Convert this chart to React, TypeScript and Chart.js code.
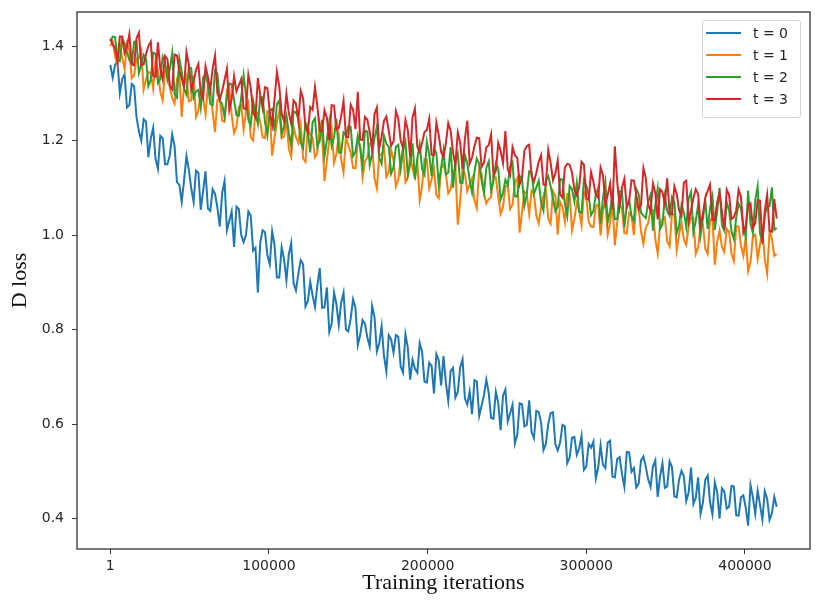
import { useEffect, useRef } from "react";
import { Chart, registerables } from "chart.js";

Chart.register(...registerables);

// one sample every 1500 iterations, first sample at iteration 1
const STEP = 1500;

const xTicks = [1, 100000, 200000, 300000, 400000];
const yTicks = [0.4, 0.6, 0.8, 1.0, 1.2, 1.4];

const seriesLabels = ["t = 0", "t = 1", "t = 2", "t = 3"];
const seriesColors = ["#1f77b4", "#ff7f0e", "#2ca02c", "#d62728"];

const lossT0 = [
  1.36, 1.333, 1.36, 1.368, 1.3, 1.33, 1.34, 1.27, 1.275, 1.32,
  1.315, 1.25, 1.22, 1.2, 1.245, 1.24, 1.165, 1.204, 1.227, 1.161,
  1.14, 1.21, 1.205, 1.15, 1.15, 1.169, 1.213, 1.188, 1.112, 1.106,
  1.07, 1.116, 1.167, 1.138, 1.099, 1.07, 1.136, 1.132, 1.053, 1.094,
  1.135, 1.056, 1.051, 1.097, 1.087, 1.058, 1.018, 1.089, 1.114, 1.01,
  1.03, 1.05, 0.975, 1.06, 1.055, 1.0, 0.985, 1.0, 1.05, 1.041,
  0.967, 0.973, 0.878, 0.984, 1.01, 1.006, 0.957, 0.938, 1.008, 0.979,
  0.91, 0.91, 0.974, 0.949, 0.904, 0.959, 0.983, 0.898, 0.883, 0.918,
  0.947, 0.938, 0.849, 0.86, 0.901, 0.872, 0.848, 0.894, 0.93, 0.846,
  0.847, 0.889, 0.795, 0.812, 0.878, 0.854, 0.81, 0.857, 0.878, 0.8,
  0.796, 0.823, 0.864, 0.846, 0.767, 0.789, 0.82, 0.812, 0.783, 0.764,
  0.85, 0.827, 0.754, 0.771, 0.807, 0.744, 0.711, 0.788, 0.779, 0.751,
  0.788, 0.785, 0.722, 0.709, 0.79, 0.762, 0.694, 0.736, 0.717, 0.709,
  0.771, 0.753, 0.69, 0.688, 0.73, 0.723, 0.665, 0.748, 0.735, 0.682,
  0.744, 0.687, 0.649, 0.712, 0.719, 0.656, 0.668, 0.72, 0.737, 0.654,
  0.641, 0.669, 0.621, 0.693, 0.69, 0.617, 0.639, 0.662, 0.694, 0.666,
  0.613, 0.611, 0.668, 0.645, 0.587, 0.66, 0.673, 0.606, 0.623, 0.641,
  0.559, 0.577, 0.644, 0.642, 0.595, 0.598, 0.65, 0.583, 0.57, 0.628,
  0.625, 0.603, 0.545, 0.558, 0.6, 0.623, 0.625, 0.557, 0.544, 0.561,
  0.598, 0.595, 0.517, 0.529, 0.571, 0.573, 0.535, 0.548, 0.575, 0.503,
  0.51, 0.558, 0.55, 0.563, 0.485, 0.508, 0.555, 0.514, 0.507, 0.561,
  0.565, 0.489, 0.487, 0.526, 0.53, 0.494, 0.467, 0.541, 0.54, 0.499,
  0.507, 0.466, 0.474, 0.523, 0.531, 0.51, 0.483, 0.467, 0.51, 0.523,
  0.446, 0.489, 0.517, 0.465, 0.468, 0.521, 0.509, 0.447, 0.445, 0.483,
  0.501, 0.489, 0.437, 0.455, 0.508, 0.431, 0.444, 0.487, 0.41, 0.434,
  0.482, 0.491, 0.435, 0.409, 0.477, 0.456, 0.4, 0.464, 0.457, 0.421,
  0.425, 0.469, 0.468, 0.407, 0.406, 0.445, 0.449, 0.423, 0.385, 0.471,
  0.445, 0.41, 0.459, 0.429, 0.398, 0.458, 0.442, 0.397, 0.411, 0.446,
  0.425,
];

const lossT1 = [
  1.4, 1.41, 1.379, 1.361, 1.403, 1.375, 1.351, 1.405, 1.39, 1.332,
  1.338, 1.374, 1.375, 1.39, 1.308, 1.329, 1.345, 1.343, 1.31, 1.368,
  1.35, 1.303, 1.285, 1.348, 1.355, 1.313, 1.29, 1.278, 1.33, 1.343,
  1.25, 1.318, 1.335, 1.283, 1.285, 1.338, 1.25, 1.263, 1.305, 1.288,
  1.256, 1.314, 1.312, 1.26, 1.218, 1.286, 1.289, 1.242, 1.24, 1.308,
  1.31, 1.253, 1.216, 1.229, 1.272, 1.275, 1.223, 1.261, 1.279, 1.207,
  1.2, 1.263, 1.256, 1.239, 1.207, 1.205, 1.262, 1.26, 1.168, 1.206,
  1.239, 1.262, 1.205, 1.208, 1.245, 1.183, 1.166, 1.229, 1.207, 1.195,
  1.233, 1.162, 1.155, 1.229, 1.212, 1.206, 1.165, 1.174, 1.237, 1.211,
  1.114, 1.158, 1.201, 1.225, 1.153, 1.172, 1.211, 1.16, 1.133, 1.207,
  1.19, 1.174, 1.142, 1.141, 1.2, 1.189, 1.122, 1.156, 1.164, 1.193,
  1.191, 1.12, 1.099, 1.168, 1.171, 1.185, 1.123, 1.132, 1.18, 1.159,
  1.103, 1.117, 1.16, 1.184, 1.112, 1.121, 1.17, 1.139, 1.122, 1.156,
  1.074, 1.103, 1.161, 1.16, 1.099, 1.118, 1.141, 1.085, 1.078, 1.142,
  1.15, 1.129, 1.088, 1.097, 1.13, 1.144, 1.022, 1.071, 1.14, 1.129,
  1.093, 1.107, 1.12, 1.074, 1.057, 1.141, 1.13, 1.089, 1.067, 1.076,
  1.08, 1.124, 1.122, 1.081, 1.045, 1.059, 1.102, 1.106, 1.055, 1.064,
  1.112, 1.121, 1.005, 1.049, 1.092, 1.086, 1.045, 1.094, 1.087, 1.041,
  1.025, 1.059, 1.083, 1.097, 1.035, 1.024, 1.093, 1.082, 1.001, 1.07,
  1.059, 1.028, 1.087, 1.086, 1.01, 1.034, 1.068, 1.052, 1.021, 1.091,
  1.08, 1.029, 1.018, 1.017, 1.061, 1.065, 0.999, 1.053, 1.072, 1.001,
  1.025, 1.069, 0.978, 1.027, 1.066, 1.055, 1.004, 1.003, 1.047, 1.041,
  1.0, 1.069, 1.058, 1.008, 0.982, 1.016, 1.025, 1.054, 1.053, 0.992,
  0.961, 1.02, 1.034, 1.038, 0.987, 0.976, 1.045, 1.044, 0.968, 1.002,
  1.026, 0.99, 0.979, 1.018, 1.037, 1.036, 0.96, 0.974, 1.018, 1.022,
  0.971, 0.96, 1.029, 1.038, 0.937, 0.986, 1.01, 0.975, 0.964, 1.013,
  1.007, 0.961, 0.945, 1.019, 1.018, 0.977, 0.956, 0.995, 0.924, 0.943,
  0.997, 1.001, 0.95, 0.98, 1.009, 0.949, 0.918, 1.008, 0.992, 0.956,
  0.96,
];

const lossT2 = [
  1.41, 1.42, 1.419, 1.371, 1.368, 1.415, 1.406, 1.388, 1.37, 1.362,
  1.409, 1.41, 1.343, 1.36, 1.381, 1.373, 1.315, 1.328, 1.386, 1.384,
  1.322, 1.33, 1.378, 1.366, 1.329, 1.352, 1.385, 1.298, 1.291, 1.374,
  1.346, 1.309, 1.297, 1.355, 1.353, 1.291, 1.304, 1.307, 1.27, 1.333,
  1.341, 1.319, 1.277, 1.275, 1.348, 1.341, 1.284, 1.277, 1.25, 1.293,
  1.321, 1.319, 1.286, 1.254, 1.252, 1.29, 1.338, 1.296, 1.244, 1.232,
  1.285, 1.258, 1.235, 1.293, 1.291, 1.239, 1.211, 1.264, 1.267, 1.22,
  1.277, 1.285, 1.213, 1.231, 1.253, 1.216, 1.189, 1.262, 1.259, 1.247,
  1.195, 1.184, 1.237, 1.221, 1.175, 1.239, 1.247, 1.186, 1.2, 1.244,
  1.167, 1.201, 1.24, 1.189, 1.207, 1.246, 1.175, 1.174, 1.217, 1.211,
  1.23, 1.229, 1.167, 1.176, 1.21, 1.184, 1.147, 1.221, 1.219, 1.148,
  1.171, 1.205, 1.229, 1.163, 1.151, 1.21, 1.193, 1.187, 1.13, 1.144,
  1.187, 1.191, 1.14, 1.179, 1.198, 1.127, 1.15, 1.194, 1.118, 1.162,
  1.191, 1.14, 1.128, 1.197, 1.171, 1.125, 1.184, 1.173, 1.107, 1.141,
  1.179, 1.128, 1.132, 1.186, 1.1, 1.154, 1.172, 1.111, 1.11, 1.169,
  1.152, 1.116, 1.09, 1.134, 1.162, 1.151, 1.115, 1.089, 1.142, 1.156,
  1.095, 1.114, 1.152, 1.141, 1.075, 1.089, 1.117, 1.106, 1.145, 1.154,
  1.082, 1.081, 1.125, 1.119, 1.062, 1.086, 1.135, 1.134, 1.087, 1.101,
  1.115, 1.069, 1.052, 1.116, 1.125, 1.104, 1.077, 1.051, 1.06, 1.119,
  1.117, 1.066, 1.04, 1.104, 1.097, 1.071, 1.11, 1.049, 1.047, 1.116,
  1.105, 1.084, 1.042, 1.051, 1.085, 1.1, 1.024, 1.078, 1.112, 1.027,
  1.051, 1.085, 1.034, 1.034, 1.093, 1.092, 1.016, 1.061, 1.075, 1.04,
  1.029, 1.098, 1.087, 1.047, 1.041, 1.036, 1.07, 1.085, 1.009, 1.064,
  1.098, 1.013, 1.022, 1.082, 1.051, 1.041, 1.08, 1.07, 1.004, 1.019,
  1.063, 1.048, 1.017, 1.077, 1.091, 1.006, 1.03, 1.065, 0.999, 1.034,
  1.073, 1.013, 1.057, 1.082, 1.011, 1.051, 1.1, 1.02, 1.009, 1.069,
  1.053, 1.008, 0.992, 1.037, 1.066, 1.056, 1.02, 0.995, 1.094, 1.024,
  1.004, 1.074, 1.103, 1.003, 0.987, 1.042, 1.061, 1.061, 1.101, 1.011,
  1.015,
];

const lossT3 = [
  1.415, 1.403, 1.395, 1.368, 1.42, 1.42, 1.385, 1.398, 1.425, 1.362,
  1.359, 1.416, 1.428, 1.36, 1.361, 1.383, 1.4, 1.409, 1.337, 1.335,
  1.408, 1.352, 1.33, 1.379, 1.372, 1.315, 1.308, 1.382, 1.38, 1.348,
  1.331, 1.314, 1.387, 1.36, 1.308, 1.326, 1.349, 1.362, 1.3, 1.289,
  1.357, 1.335, 1.308, 1.352, 1.38, 1.299, 1.287, 1.305, 1.328, 1.352,
  1.265, 1.288, 1.336, 1.304, 1.317, 1.33, 1.268, 1.266, 1.339, 1.312,
  1.26, 1.249, 1.332, 1.296, 1.269, 1.313, 1.311, 1.26, 1.233, 1.287,
  1.345, 1.314, 1.257, 1.241, 1.299, 1.258, 1.236, 1.285, 1.278, 1.242,
  1.305, 1.289, 1.228, 1.217, 1.271, 1.265, 1.313, 1.272, 1.221, 1.22,
  1.264, 1.248, 1.201, 1.275, 1.274, 1.223, 1.227, 1.251, 1.284, 1.208,
  1.207, 1.276, 1.265, 1.224, 1.303, 1.202, 1.201, 1.25, 1.244, 1.218,
  1.182, 1.256, 1.27, 1.184, 1.208, 1.242, 1.251, 1.22, 1.189, 1.198,
  1.262, 1.246, 1.2, 1.184, 1.243, 1.222, 1.165, 1.249, 1.268, 1.187,
  1.176, 1.195, 1.218, 1.222, 1.246, 1.17, 1.169, 1.238, 1.212, 1.176,
  1.165, 1.194, 1.237, 1.221, 1.175, 1.149, 1.217, 1.196, 1.14, 1.204,
  1.242, 1.151, 1.164, 1.188, 1.206, 1.205, 1.144, 1.153, 1.186, 1.19,
  1.213, 1.127, 1.136, 1.195, 1.178, 1.152, 1.22, 1.139, 1.127, 1.186,
  1.169, 1.163, 1.107, 1.121, 1.179, 1.188, 1.191, 1.125, 1.113, 1.132,
  1.155, 1.169, 1.107, 1.106, 1.18, 1.153, 1.116, 1.13, 1.158, 1.086,
  1.079, 1.143, 1.151, 1.149, 1.132, 1.096, 1.084, 1.102, 1.155, 1.149,
  1.077, 1.075, 1.133, 1.112, 1.085, 1.079, 1.143, 1.127, 1.066, 1.085,
  1.109, 1.054, 1.188, 1.112, 1.061, 1.1, 1.119, 1.058, 1.072, 1.116,
  1.115, 1.085, 1.054, 1.063, 1.142, 1.121, 1.065, 1.05, 1.109, 1.089,
  1.033, 1.097, 1.091, 1.066, 1.12, 1.045, 1.044, 1.103, 1.087, 1.052,
  1.041, 1.111, 1.115, 1.029, 1.053, 1.078, 1.097, 1.087, 1.021, 1.045,
  1.079, 1.093, 1.107, 1.032, 1.031, 1.07, 1.089, 1.048, 1.012, 1.096,
  1.085, 1.034, 1.038, 1.052, 1.096, 1.081, 1.005, 1.019, 1.063, 1.067,
  1.016, 1.025, 1.074, 1.073, 0.982, 1.051, 1.085, 1.009, 1.007, 1.076,
  1.035,
];

const seriesValues = [lossT0, lossT1, lossT2, lossT3];
const iterations = lossT0.map((_, i) => (i === 0 ? 1 : i * STEP));

const tickFont = { family: "'DejaVu Sans', sans-serif", size: 14 };
const titleFont = { family: "'Liberation Serif', serif", size: 22 };

// matplotlib-style box around the plot area
const framePlugin = {
  id: "frame",
  afterDatasetsDraw(chart: Chart) {
    const { ctx, chartArea: a } = chart;
    ctx.save();
    ctx.strokeStyle = "#333333";
    ctx.lineWidth = 1.3;
    ctx.strokeRect(a.left, a.top, a.right - a.left, a.bottom - a.top);
    ctx.restore();
  },
};

// keep Chart.js from reserving extra room for edge labels
function pinSize(scale: any, size: { width?: number; height?: number }) {
  if (size.width !== undefined) scale.width = size.width;
  if (size.height !== undefined) scale.height = size.height;
  scale.paddingTop = 0;
  scale.paddingBottom = 0;
  scale.paddingLeft = 0;
  scale.paddingRight = 0;
}

function LossChart() {
  const canvasRef = useRef<HTMLCanvasElement>(null);
  const chartRef = useRef<Chart | null>(null);

  useEffect(() => {
    const canvas = canvasRef.current;
    if (!canvas) return;
    const ctx = canvas.getContext("2d");
    if (!ctx) return;

    if (chartRef.current) chartRef.current.destroy();

    chartRef.current = new Chart(ctx, {
      type: "line",
      data: {
        datasets: seriesValues.map((vals, s) => ({
          label: seriesLabels[s],
          data: vals.map((y, i) => ({ x: iterations[i], y })),
          borderColor: seriesColors[s],
          backgroundColor: seriesColors[s],
          borderWidth: 2,
          pointRadius: 0,
          tension: 0,
          fill: false,
          order: seriesValues.length - 1 - s,
        })),
      },
      options: {
        responsive: false,
        animation: false,
        layout: { padding: { top: 12, right: 15, left: 0, bottom: 0 } },
        plugins: {
          legend: { display: false },
          tooltip: { enabled: false },
        },
        scales: {
          x: {
            type: "linear",
            min: -21000,
            max: 441000,
            afterBuildTicks(scale) {
              scale.ticks = xTicks.map((value) => ({ value }));
            },
            afterFit(scale) {
              pinSize(scale, { height: 63 });
            },
            grid: {
              drawOnChartArea: false,
              drawTicks: true,
              tickLength: 5,
              color: "#333333",
              lineWidth: 1,
            },
            border: { display: false },
            ticks: {
              autoSkip: false,
              maxRotation: 0,
              padding: 4,
              color: "#262626",
              font: tickFont,
              callback: (v) => String(v),
            },
            title: {
              display: true,
              text: "Training iterations",
              color: "#111111",
              font: titleFont,
              padding: { top: 0, bottom: 16 },
            },
          },
          y: {
            type: "linear",
            min: 0.3356,
            max: 1.472,
            afterBuildTicks(scale) {
              scale.ticks = yTicks.map((value) => ({ value }));
            },
            afterFit(scale) {
              pinSize(scale, { width: 77 });
            },
            grid: {
              drawOnChartArea: false,
              drawTicks: true,
              tickLength: 5,
              color: "#333333",
              lineWidth: 1,
            },
            border: { display: false },
            ticks: {
              padding: 8,
              color: "#262626",
              font: tickFont,
              callback: (v) => Number(v).toFixed(1),
            },
            title: {
              display: true,
              text: "D loss",
              color: "#111111",
              font: titleFont,
              padding: { top: 7, bottom: 0 },
            },
          },
        },
      },
      plugins: [framePlugin],
    });

    return () => {
      chartRef.current?.destroy();
      chartRef.current = null;
    };
  }, []);

  return (
    <div style={{ position: "relative", width: 825, height: 612 }}>
      <canvas ref={canvasRef} width={825} height={612} />
      <div
        style={{
          position: "absolute",
          left: 702,
          top: 20,
          width: 97,
          height: 95,
          paddingTop: 1,
          boxSizing: "content-box",
          border: "1px solid #d4d4d4",
          borderRadius: 3,
          background: "rgba(255,255,255,0.8)",
          fontFamily: "'DejaVu Sans', sans-serif",
          fontSize: 14,
          color: "#262626",
        }}
      >
        {seriesLabels.map((label, s) => (
          <div
            key={label}
            style={{ display: "flex", alignItems: "center", height: 22 }}
          >
            <span
              style={{
                display: "inline-block",
                marginLeft: 3,
                width: 35,
                height: 2,
                background: seriesColors[s],
              }}
            />
            <span style={{ marginLeft: 12, whiteSpace: "nowrap" }}>{label}</span>
          </div>
        ))}
      </div>
    </div>
  );
}

export default function App() {
  useEffect(() => {
    document.body.style.margin = "0";
  }, []);
  return <LossChart />;
}
